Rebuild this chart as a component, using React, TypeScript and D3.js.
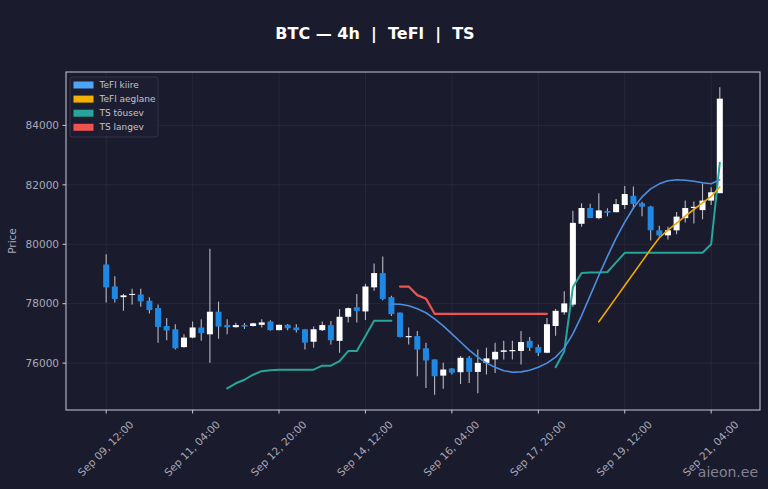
import * as d3 from "d3";
import { useEffect } from "react";

const W = 768;
const H = 489;
const PLOT = { left: 66, right: 760, top: 72, bottom: 410 };

const BG = "#1b1b2e";
const AXIS = "#c9c9d4";
const TICK_TEXT = "#a9a9b8";
const UP_COLOR = "#ffffff";
const DOWN_COLOR = "#1e88e5";
const WICK = "#b9b9c2";

// 4h candles, first one at Sep 09 12:00
const START = "2025-09-09T12:00:00Z";
const STEP_HOURS = 4;

const OPEN = [
  79320, 78580, 78220, 78300, 78310, 78100, 77855, 77250, 77140, 76540,
  76860, 77200, 76970, 77730, 77280, 77210, 77280, 77250, 77290, 77400,
  77110, 77290, 77200, 77140, 76720, 77110, 77280, 76750, 77560, 77880,
  77740, 78550, 79030, 78220, 77700, 76870, 76910, 76500, 76125, 75580,
  75820, 75695, 76180, 75705, 76010, 76125, 76380, 76400, 76410, 76750,
  76540, 76350, 77250, 77710, 77970, 80690, 81220, 80880, 81120, 81080,
  81320, 81630, 81380, 81270, 80470, 80300, 80470, 80880, 81220, 81150,
  81470, 81720,
];
const HIGH = [
  79660, 78925, 78330, 78500, 78500, 78215, 77970, 77515, 77310, 76970,
  77400, 77480, 79850, 78070, 77480, 77360, 77350, 77360, 77480, 77445,
  77290, 77320, 77310, 77140, 77230, 77400, 77420, 77820, 77870, 78330,
  78670, 79350, 79590, 78270, 77700, 77200, 77080, 76690, 76125, 76010,
  75840, 76240, 76240, 76460, 76520, 76690, 76750, 76750, 77080, 76880,
  76630, 77515, 77820, 78420, 81130, 81380, 81365, 81720, 81210, 81520,
  81960, 81940, 81430, 81300, 80620, 80590, 81090, 81470, 81440, 82050,
  81920, 85280,
];
const LOW = [
  78040, 78040, 77760, 77970, 77900, 77670, 76690, 76770, 76460, 76520,
  76840, 76750, 76010, 76820, 76970, 77200, 77150, 77230, 77200, 77090,
  77110, 77110, 77030, 76460, 76520, 77080, 76630, 76350, 77370, 77370,
  77450, 78440, 78120, 77590, 76860, 76630, 75560, 75160, 74940, 75140,
  75620, 75300, 75330, 74990, 75620, 75670, 76125, 76125, 75955, 76410,
  76240, 76330, 76920, 77630, 77900, 80590, 80880, 80840, 80940, 81080,
  81190, 81190, 80940, 80130, 80250, 80160, 80340, 80730, 80700, 80840,
  81320, 81720,
];
const CLOSE = [
  78550, 78160, 78280, 78330, 78080, 77785, 77220, 77100, 76500, 76860,
  77200, 77010, 77730, 77230, 77210, 77280, 77230, 77340, 77370, 77110,
  77290, 77175, 77110, 76690, 77140, 77280, 76770, 77560, 77850, 77760,
  78580, 79030, 78160, 77650, 76880, 76910, 76460, 76090, 75560, 75785,
  75680, 76180, 75705, 76010, 76160, 76380, 76430, 76440, 76710, 76520,
  76350, 77310, 77760, 78010, 80720, 81220, 80880, 81140, 81060, 81350,
  81690, 81360, 81265, 80470, 80300, 80470, 80930, 81220, 81260, 81470,
  81750, 84900,
];

// indicator series: first candle index + values
const TEFL_FAST_FROM = 33;
const TEFL_FAST = [
  77990, 77983, 77932, 77830, 77695, 77490, 77254, 76983, 76712, 76440,
  76203, 76000, 75864, 75746, 75695, 75705, 75763, 75864, 76000, 76203,
  76508, 76983, 77593, 78271, 78950, 79593, 80204, 80746, 81221, 81594,
  81865, 82034, 82136, 82170, 82153, 82119, 82068, 82034, 82170,
];
const TEFL_SLOW_FROM = 57;
const TEFL_SLOW = [
  77390, 77797, 78204, 78610, 79017, 79424, 79831, 80220, 80475, 80712,
  80949, 81170, 81390, 81610, 81932,
];
const TS_UP_A_FROM = 14;
const TS_UP_A = [
  75152, 75322, 75441, 75610, 75729, 75763, 75780, 75780, 75780, 75780,
  75780, 75915, 75915, 76068, 76407, 76407, 76915, 77424, 77424, 77424,
];
const TS_DOWN_FROM = 34;
const TS_DOWN = [
  78576, 78576, 78288, 78170, 77661, 77661, 77661, 77661, 77661, 77661,
  77661, 77661, 77661, 77661, 77661, 77661, 77661, 77661,
];
const TS_UP_B_FROM = 52;
const TS_UP_B = [
  75864, 76400, 78553, 79034, 79051, 79051, 79068, 79390, 79712, 79712,
  79712, 79712, 79712, 79712, 79712, 79712, 79712, 79712, 80000, 82746,
];

const X_TICKS = [
  "2025-09-09T12:00:00Z", "2025-09-11T04:00:00Z", "2025-09-12T20:00:00Z",
  "2025-09-14T12:00:00Z", "2025-09-16T04:00:00Z", "2025-09-17T20:00:00Z",
  "2025-09-19T12:00:00Z", "2025-09-21T04:00:00Z",
];
const Y_TICKS = [76000, 78000, 80000, 82000, 84000];

const LEGEND = [
  { label: "TeFl kiire", color: "#4ea5f7" },
  { label: "TeFl aeglane", color: "#f2b000" },
  { label: "TS tõusev", color: "#26a69a" },
  { label: "TS langev", color: "#ef5350" },
];

const FONT = "'DejaVu Sans', Verdana, sans-serif";
const HOUR = 3600 * 1000;

export default function App() {
  useEffect(() => {
    document.body.style.margin = "0";
    document.body.style.background = BG;
  }, []);

  const t0 = new Date(START).getTime();
  const times = OPEN.map((_, i) => new Date(t0 + i * STEP_HOURS * HOUR));
  const pad = 4.65 * STEP_HOURS * HOUR;

  const x = d3
    .scaleUtc()
    .domain([new Date(t0 - pad), new Date(times[times.length - 1].getTime() + pad)])
    .range([PLOT.left, PLOT.right]);

  const lo = d3.min(LOW)!;
  const hi = d3.max(HIGH)!;
  const margin = (hi - lo) * 0.05;
  const y = d3
    .scaleLinear()
    .domain([lo - margin, hi + margin])
    .range([PLOT.bottom, PLOT.top]);

  const bodyW = 6;
  const fmt = d3.utcFormat("%b %d, %H:%M");

  const series = (from: number, vals: number[]) =>
    d3
      .line<number>()
      .x((_, i) => x(times[from + i]))
      .y((d) => y(d))(vals) ?? "";

  return (
    <svg
      width={W}
      height={H}
      style={{ display: "block", position: "absolute", left: 0, top: 0 }}
      fontFamily={FONT}
    >
      <rect width={W} height={H} fill={BG} />

      {/* grid */}
      <g stroke="#ffffff" strokeOpacity={0.07} strokeWidth={0.8}>
        {X_TICKS.map((t) => (
          <line key={t} x1={x(new Date(t))} x2={x(new Date(t))} y1={PLOT.top} y2={PLOT.bottom} />
        ))}
        {Y_TICKS.map((v) => (
          <line key={v} x1={PLOT.left} x2={PLOT.right} y1={y(v)} y2={y(v)} />
        ))}
      </g>

      {/* candles */}
      <g>
        {times.map((t, i) => {
          const up = CLOSE[i] >= OPEN[i];
          const cx = x(t);
          const top = y(Math.max(OPEN[i], CLOSE[i]));
          const bot = y(Math.min(OPEN[i], CLOSE[i]));
          return (
            <g key={i}>
              <line x1={cx} x2={cx} y1={y(HIGH[i])} y2={y(LOW[i])} stroke={WICK} strokeWidth={1.1} />
              <rect
                x={cx - bodyW / 2}
                y={top}
                width={bodyW}
                height={Math.max(1, bot - top)}
                fill={up ? UP_COLOR : DOWN_COLOR}
              />
            </g>
          );
        })}
      </g>

      {/* indicator lines */}
      <g fill="none" strokeLinejoin="round" strokeLinecap="round">
        <path d={series(TS_UP_A_FROM, TS_UP_A)} stroke="#26a69a" strokeWidth={2} />
        <path d={series(TS_UP_B_FROM, TS_UP_B)} stroke="#26a69a" strokeWidth={2} />
        <path d={series(TS_DOWN_FROM, TS_DOWN)} stroke="#ef5350" strokeWidth={2.2} />
        <path d={series(TEFL_FAST_FROM, TEFL_FAST)} stroke="#4a90e2" strokeWidth={1.6} />
        <path d={series(TEFL_SLOW_FROM, TEFL_SLOW)} stroke="#f0a800" strokeWidth={1.6} />
      </g>

      {/* frame */}
      <rect
        x={PLOT.left}
        y={PLOT.top}
        width={PLOT.right - PLOT.left}
        height={PLOT.bottom - PLOT.top}
        fill="none"
        stroke={AXIS}
        strokeWidth={1}
      />

      {/* y axis */}
      <g>
        {Y_TICKS.map((v) => (
          <g key={v} transform={`translate(0,${y(v)})`}>
            <line x1={PLOT.left - 3.5} x2={PLOT.left} stroke={AXIS} />
            <text x={PLOT.left - 7} dy="0.35em" textAnchor="end" fontSize={10.5} fill={TICK_TEXT}>
              {v}
            </text>
          </g>
        ))}
        <text
          transform={`translate(16,${(PLOT.top + PLOT.bottom) / 2}) rotate(-90)`}
          textAnchor="middle"
          fontSize={10.5}
          fill={TICK_TEXT}
        >
          Price
        </text>
      </g>

      {/* x axis */}
      <g>
        {X_TICKS.map((t) => {
          const px = x(new Date(t));
          return (
            <g key={t}>
              <line x1={px} x2={px} y1={PLOT.bottom} y2={PLOT.bottom + 3.5} stroke={AXIS} />
              <text
                transform={`translate(${px},449) rotate(-45)`}
                textAnchor="middle"
                dominantBaseline="middle"
                fontSize={10.5}
                fill={TICK_TEXT}
              >
                {fmt(new Date(t))}
              </text>
            </g>
          );
        })}
      </g>

      {/* legend */}
      <g transform="translate(70,77)">
        <rect width={88} height={60} rx={2.5} fill="#1e1e32" fillOpacity={0.9} stroke="#3b3b52" strokeWidth={0.8} />
        {LEGEND.map((d, i) => (
          <g key={d.label} transform={`translate(0,${8 + i * 14.1})`}>
            <rect x={3.5} y={-3.5} width={20} height={7} fill={d.color} />
            <text x={29.5} dy="0.35em" fontSize={9} fill="#c4c4d0">
              {d.label}
            </text>
          </g>
        ))}
      </g>

      {/* title */}
      <text
        x={375}
        y={39}
        textAnchor="middle"
        fontSize={16}
        fontWeight="bold"
        fill="#ffffff"
        style={{ whiteSpace: "pre" }}
      >
        {"BTC — 4h  |  TeFl  |  TS"}
      </text>

      {/* watermark */}
      <text x={758} y={477} textAnchor="end" fontSize={14} fill="#a0a0b0" fillOpacity={0.8}>
        aieon.ee
      </text>
    </svg>
  );
}
